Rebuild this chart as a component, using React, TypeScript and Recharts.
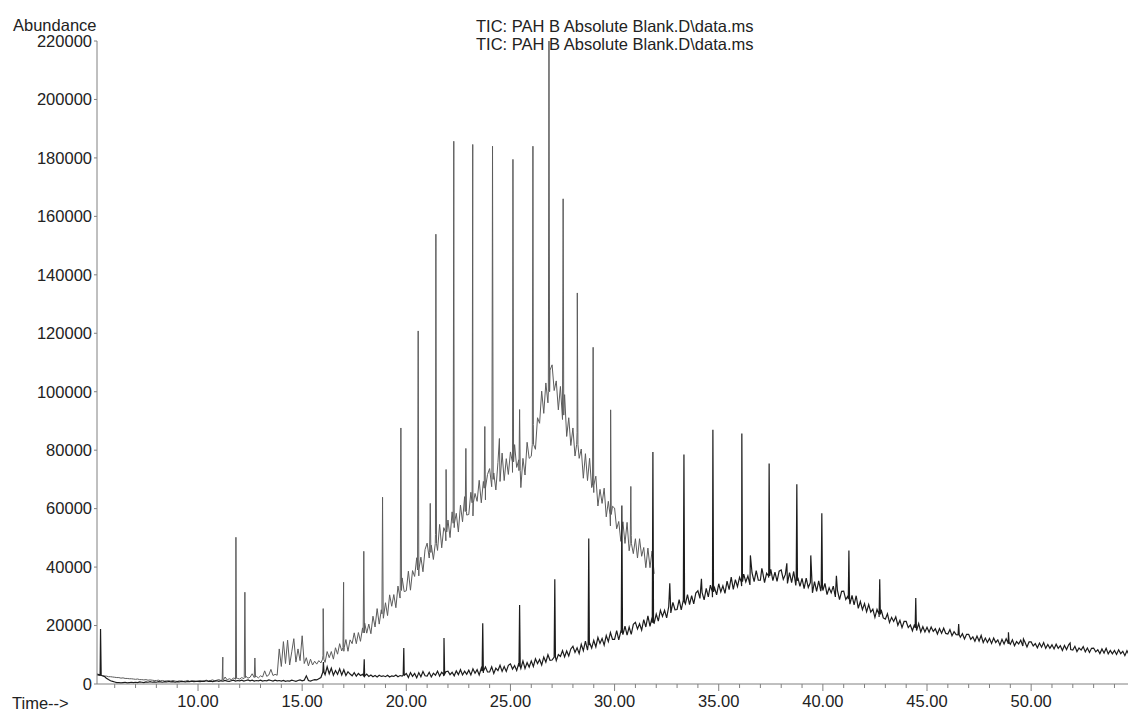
import { Line, LineChart, XAxis, YAxis } from "recharts";

const FONT = '"Liberation Sans", Arial, Helvetica, sans-serif';
const STEP = 0.1; // minutes between stored samples
const SHOULDER = 0.03; // half width of a sharp peak, minutes

// ---- run A (grey trace), abundance in thousands, sampled every 0.1 min ----
const runA_05 = [
  3.2, 3.1, 3.0, 2.9, 2.9, 2.7, 2.7, 2.5, 2.5, 2.4,
  2.3, 2.2, 2.2, 2.0, 2.1, 1.9, 1.9, 1.8, 1.8, 1.7,
  1.6, 1.7, 1.5, 1.5, 1.4, 1.5, 1.3, 1.4, 1.3, 1.2,
  1.2, 1.3, 1.1, 1.2, 1.0, 1.1, 1.1, 1.0, 1.2, 1.0,
  0.9, 1.1, 1.0, 0.9, 1.0, 1.2, 0.9, 1.0, 1.1, 0.9,
];
const runA_10 = [
  1.0, 1.2, 0.9, 1.1, 1.3, 1.0, 1.2, 1.4, 1.1, 1.3,
  1.5, 1.2, 1.6, 2.4, 1.4, 1.8, 1.5, 2.0, 1.6, 1.9,
  1.7, 2.2, 1.8, 2.6, 2.0, 2.3, 3.5, 2.2, 2.6, 2.1,
  2.8, 2.4, 4.5, 2.6, 3.1, 5.0, 2.9, 3.3, 3.0,
];
const runA_139 = [
  12.0, 6.0, 14.5, 7.0, 15.0, 6.5, 11.0, 15.5, 7.5, 12.0,
  8.0, 16.5, 7.0, 9.0, 6.2, 8.5, 6.5, 7.8, 6.8, 8.0, 7.2,
];
const runA_16 = [
  9.8, 7.4, 11.1, 9.0, 11.1, 8.5, 12.4, 10.2, 13.8, 11.3,
  11.2, 15.2, 11.2, 15.1, 13.8, 17.5, 13.8, 17.6, 14.6, 19.2,
  20.9, 17.4, 20.5, 17.2, 23.2, 19.5, 25.8, 20.5, 25.4, 22.5,
  27.8, 23.4, 30.5, 26.6, 30.6, 26.1, 33.5, 29.4, 36.3, 31.6,
  31.9, 38.6, 32.1, 38.8, 36.8, 43.2, 37.0, 43.4, 38.4, 46.0,
];
const runA_21 = [
  48.2, 43.1, 47.5, 42.6, 51.2, 45.7, 54.6, 46.6, 53.5, 49.0,
  56.1, 50.1, 58.9, 53.5, 58.4, 52.0, 61.2, 55.5, 64.1, 57.8,
  58.0, 65.6, 57.5, 65.2, 62.5, 69.7, 62.0, 69.3, 63.0, 71.7,
  73.7, 67.5, 72.2, 66.4, 75.8, 69.3, 79.0, 69.6, 77.1, 71.7,
  79.4, 72.4, 81.9, 74.1, 76.7, 67.2, 77.2, 71.5, 82.7, 77.2,
];
const runA_26 = [
  77.9, 88.8, 80.3, 91.1, 89.2, 100.2, 92.6, 103.0, 96.2, 107.4,
  109.2, 100.4, 103.7, 93.8, 101.8, 90.5, 99.0, 84.7, 91.1, 81.6,
  87.6, 78.0, 86.0, 77.2, 80.4, 70.4, 78.8, 69.6, 77.2, 67.2,
  65.5, 71.1, 60.9, 66.6, 61.8, 67.0, 57.2, 62.5, 54.1, 60.8,
  60.2, 53.1, 55.6, 48.8, 55.5, 48.1, 55.3, 45.6, 50.8, 44.6,
  49.7, 43.1, 49.7, 43.7, 46.7, 39.8, 46.5, 39.8, 45.5, 37.7,
];
// [retention time, apex, local base] in thousands; base omitted for broad bumps
const runA_peaks: [number, number, number?][] = [
  [11.19, 9.2, 1.4], [11.82, 50.2, 1.9], [12.25, 31.4, 2.2], [12.73, 8.9, 2.4],
  [16.01, 25.8, 8.5], [16.99, 34.8, 12.5], [17.96, 45.4, 17.5], [18.86, 63.9, 24.0],
  [19.74, 87.6, 32.0], [20.57, 120.8, 39.0], [21.15, 61.8, 45.0], [21.42, 153.9, 48.0],
  [21.91, 73.4, 52.0], [22.28, 185.7, 55.0], [22.86, 80.6, 59.0], [23.19, 184.6, 62.0],
  [23.77, 88.1, 67.0], [24.14, 184.0, 70.0], [24.47, 84.0], [25.12, 179.5, 76.0],
  [25.44, 93.9, 73.0], [26.08, 184.0, 82.0], [26.85, 220.0, 100.0], [27.53, 166.0, 92.0],
  [28.21, 133.8, 82.0], [28.97, 115.2, 68.0], [29.81, 93.8, 58.0], [30.78, 67.6, 48.0],
];

// ---- run B (dark trace) ----
const runB_05 = [
  3.6, 3.4, 3.3, 3.0, 2.8, 2.6, 2.0, 1.5, 1.1, 0.9,
  0.7, 0.5, 0.5, 0.4, 0.5, 0.6, 0.4, 0.5, 0.6, 0.5,
  0.6, 0.5, 0.7, 0.6, 0.5, 0.7, 0.6, 0.8, 0.6, 0.7,
  0.6, 0.8, 0.7, 0.6, 0.8, 0.7, 0.9, 0.7, 0.8, 0.6,
  0.8, 0.7, 0.9, 0.8, 0.7, 0.9, 0.8, 1.0, 0.8, 0.9,
];
const runB_10 = [
  0.9, 0.8, 1.0, 0.9, 1.1, 0.9, 1.0, 0.8, 1.0, 1.1,
  0.9, 1.1, 1.0, 1.2, 1.0, 0.9, 1.1, 1.3, 1.0, 1.2,
  1.1, 1.3, 1.0, 1.2, 1.4, 1.1, 1.3, 1.0, 1.2, 1.1,
  1.3, 1.0, 1.2, 1.1, 1.4, 1.2, 1.0, 1.3, 1.1, 1.2,
  1.0, 1.2, 0.9, 1.1, 1.0, 1.3, 1.1, 0.9, 1.2, 1.4,
  1.1, 1.3, 2.8, 1.2, 1.0, 1.3, 1.5, 1.4, 1.8, 2.2,
];
const runB_16 = [
  4.8, 3.2, 5.9, 3.5, 5.4, 3.0, 4.6, 3.3, 5.2, 3.1,
  4.9, 2.9, 4.2, 3.4, 2.8, 3.9, 2.7, 3.6, 2.9, 3.3,
  2.7, 3.4, 2.6, 3.1, 2.5, 2.9, 2.4, 3.0, 2.6, 2.8,
  2.5, 3.0, 2.4, 2.8, 2.6, 3.1, 2.5, 2.9, 2.7, 3.2,
];
const runB_20 = [
  3.6, 2.2, 3.9, 2.6, 3.6, 2.1, 3.9, 2.5, 4.3, 2.8,
  2.7, 4.0, 2.4, 3.7, 3.0, 4.4, 2.7, 4.0, 2.7, 4.2,
  4.4, 3.2, 4.0, 2.8, 4.5, 3.2, 4.9, 3.1, 4.4, 3.3,
  4.7, 3.1, 5.2, 3.7, 4.9, 3.1, 5.4, 3.8, 5.8, 4.1,
  4.1, 5.9, 3.6, 5.4, 4.6, 6.4, 4.3, 6.0, 4.3, 6.4,
];
const runB_25 = [
  6.9, 5.1, 6.3, 4.6, 7.1, 5.3, 7.9, 5.3, 7.3, 5.8,
  7.9, 6.0, 8.6, 7.0, 8.4, 6.5, 9.2, 7.5, 10.0, 8.1,
  8.2, 10.3, 8.0, 10.1, 9.4, 11.4, 9.3, 11.3, 9.6, 12.0,
  12.9, 10.8, 12.4, 10.4, 13.6, 11.4, 14.7, 11.6, 14.1, 12.3,
  14.9, 12.7, 15.9, 13.9, 15.6, 13.3, 16.6, 14.5, 17.6, 15.3,
];
const runB_30 = [
  15.3, 18.3, 15.1, 18.0, 16.9, 19.8, 16.7, 19.5, 17.0, 20.4,
  21.1, 18.8, 20.6, 18.4, 22.0, 19.5, 23.3, 19.7, 22.8, 20.8,
  23.9, 21.5, 25.2, 23.1, 25.2, 22.6, 26.5, 24.3, 27.9, 25.4,
  25.5, 28.9, 25.4, 28.7, 27.4, 30.6, 27.2, 30.2, 27.4, 31.1,
  31.9, 29.3, 31.3, 28.8, 32.7, 29.8, 33.8, 29.7, 32.9, 30.5,
];
const runB_35 = [
  34.3, 31.5, 33.6, 31.0, 35.2, 32.3, 36.6, 32.4, 35.7, 33.3,
  36.5, 33.5, 37.6, 34.9, 37.0, 33.9, 38.0, 35.0, 38.8, 35.5,
  35.5, 38.6, 34.7, 37.9, 36.4, 39.2, 35.4, 38.3, 35.1, 38.6,
  39.0, 35.8, 37.5, 34.4, 38.1, 34.7, 38.5, 33.7, 36.4, 33.4,
  36.1, 32.6, 36.2, 33.0, 34.7, 31.2, 35.0, 31.7, 35.3, 31.8,
];
const runB_40 = [
  32.0, 34.4, 30.6, 32.9, 31.2, 33.5, 29.8, 32.0, 28.9, 31.7,
  31.8, 28.9, 30.1, 27.3, 30.3, 27.1, 30.2, 25.9, 28.2, 25.4,
  27.5, 24.7, 27.2, 24.6, 25.6, 22.8, 25.5, 22.9, 25.4, 22.6,
  22.2, 24.0, 21.0, 22.8, 21.4, 23.0, 20.1, 21.8, 19.3, 21.4,
  21.4, 19.3, 20.2, 18.2, 20.4, 18.3, 20.7, 17.8, 19.6, 17.8,
];
const runB_45 = [
  19.4, 17.7, 19.5, 18.0, 18.9, 17.1, 19.0, 17.4, 19.1, 17.3,
  17.1, 18.6, 16.5, 17.9, 16.9, 18.1, 16.0, 17.2, 15.4, 17.0,
  17.0, 15.3, 16.1, 14.6, 16.4, 14.7, 16.6, 14.2, 15.7, 14.2,
  15.6, 13.9, 15.7, 14.2, 15.1, 13.3, 15.3, 13.7, 15.5, 13.7,
  13.6, 15.1, 13.1, 14.5, 13.7, 15.0, 13.0, 14.4, 12.7, 14.4,
];
const runB_50 = [
  14.4, 13.0, 13.8, 12.4, 14.0, 12.6, 14.2, 12.2, 13.5, 12.2,
  13.4, 12.0, 13.6, 12.2, 13.1, 11.5, 13.2, 11.8, 13.4, 11.8,
  11.6, 12.9, 11.1, 12.3, 11.6, 12.8, 11.0, 12.3, 10.8, 12.2,
  12.3, 11.0, 11.7, 10.4, 12.0, 10.6, 12.2, 10.3, 11.5, 10.3,
  11.5, 10.1, 11.7, 10.4, 11.2, 9.7, 11.4, 10.0,
];
const runB_peaks: [number, number, number?][] = [
  [5.32, 18.8, 3.0], [16.02, 7.5, 4.0], [17.98, 8.5, 2.8], [19.88, 12.3, 3.0],
  [21.81, 15.7, 3.4], [23.67, 20.8, 4.4], [25.44, 27.0, 6.0], [27.13, 35.8, 9.2],
  [28.76, 49.8, 13.3], [30.35, 61.1, 17.5], [31.84, 79.4, 21.0], [32.65, 34.5],
  [33.33, 78.5, 28.0], [34.17, 36.0], [34.72, 87.0, 31.5], [36.11, 85.7, 35.0],
  [36.52, 44.0], [37.07, 39.6], [37.42, 75.4, 37.0], [38.27, 41.3],
  [38.75, 68.3, 35.3], [39.42, 44.0], [39.95, 58.4, 33.0], [40.65, 37.0],
  [41.25, 45.7, 29.0], [42.73, 35.8, 23.8], [44.46, 29.4, 19.2], [46.52, 20.5, 16.8],
  [48.91, 17.7, 14.3], [49.63, 15.4], [51.87, 14.0],
];

// axis ticks
const majorTimes = [10, 15, 20, 25, 30, 35, 40, 45, 50];
const minuteTicks = [
  6, 7, 8, 9, 10, 11, 12, 13, 14, 15, 16, 17, 18, 19, 20, 21, 22, 23, 24, 25,
  26, 27, 28, 29, 30, 31, 32, 33, 34, 35, 36, 37, 38, 39, 40, 41, 42, 43, 44,
  45, 46, 47, 48, 49, 50, 51, 52, 53, 54,
];
const abundanceTicks = [
  0, 20000, 40000, 60000, 80000, 100000, 120000, 140000, 160000, 180000, 200000, 220000,
];
const titleLines = ["TIC: PAH B Absolute Blank.D\\data.ms", "TIC: PAH B Absolute Blank.D\\data.ms"];

type Pt = { t: number; v: number };

function buildTrace(segments: [number, number[]][], peaks: [number, number, number?][]): Pt[] {
  const pts: Pt[] = [];
  for (const [start, vals] of segments) {
    vals.forEach((k, i) => pts.push({ t: Math.round((start + i * STEP) * 100) / 100, v: k * 1000 }));
  }
  for (const [t, apex, base] of peaks) {
    pts.push({ t, v: apex * 1000 });
    if (base !== undefined) {
      pts.push({ t: t - SHOULDER, v: base * 1000 });
      pts.push({ t: t + SHOULDER, v: base * 1000 });
    }
  }
  return pts.sort((a, b) => a.t - b.t);
}

const traceA = buildTrace(
  [[5.0, runA_05], [10.0, runA_10], [13.9, runA_139], [16.0, runA_16], [21.0, runA_21], [26.0, runA_26]],
  runA_peaks
);
const traceB = buildTrace(
  [
    [5.0, runB_05], [10.0, runB_10], [16.0, runB_16], [20.0, runB_20], [25.0, runB_25],
    [30.0, runB_30], [35.0, runB_35], [40.0, runB_40], [45.0, runB_45], [50.0, runB_50],
  ],
  runB_peaks
);

function TimeTick(props: any) {
  const { x, y, payload } = props;
  const major = majorTimes.includes(payload.value);
  return (
    <g>
      <line x1={x} y1={y} x2={x} y2={y + (major ? 7 : 4)} stroke="#808080" strokeWidth={1} />
      {major ? (
        <text x={x} y={y + 22.7} textAnchor="middle" fontSize={16.5} fill="#222" fontFamily={FONT}>
          {payload.value.toFixed(2)}
        </text>
      ) : null}
    </g>
  );
}

export default function App() {
  return (
    <div style={{ position: "absolute", left: 0, top: 0, width: 1128, height: 711, background: "#fff" }}>
      <LineChart width={1128} height={711} margin={{ top: 41, right: 0, bottom: 0, left: 0 }}>
        <XAxis
          dataKey="t"
          type="number"
          domain={[5.15, 54.65]}
          allowDataOverflow
          ticks={minuteTicks}
          interval={0}
          height={27}
          tickSize={0}
          tickMargin={0}
          tickLine={false}
          axisLine={{ stroke: "#808080" }}
          tick={<TimeTick />}
        />
        <YAxis
          type="number"
          domain={[0, 220000]}
          ticks={abundanceTicks}
          interval={0}
          width={97}
          tickSize={3}
          tickMargin={2}
          axisLine={{ stroke: "#808080" }}
          tickLine={{ stroke: "#808080" }}
          tick={{ fontSize: 16.5, fill: "#222", fontFamily: FONT }}
        />
        <Line
          data={traceA}
          dataKey="v"
          type="linear"
          stroke="#5c5c5c"
          strokeWidth={1}
          dot={false}
          activeDot={false}
          isAnimationActive={false}
        />
        <Line
          data={traceB}
          dataKey="v"
          type="linear"
          stroke="#1c1c1c"
          strokeWidth={1.2}
          dot={false}
          activeDot={false}
          isAnimationActive={false}
        />
      </LineChart>
      <svg
        width={1128}
        height={711}
        style={{ position: "absolute", left: 0, top: 0, pointerEvents: "none" }}
        fontFamily={FONT}
        fontSize={16.5}
        fill="#222"
      >
        <text x={13} y={31}>Abundance</text>
        <text x={476} y={31.5}>{titleLines[0]}</text>
        <text x={476} y={50}>{titleLines[1]}</text>
        <text x={12} y={708.5}>Time--&gt;</text>
      </svg>
    </div>
  );
}
